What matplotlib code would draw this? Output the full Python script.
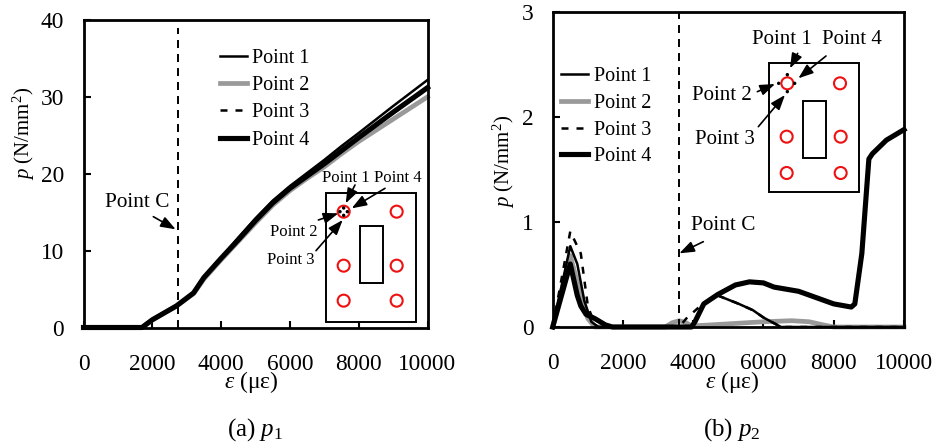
import matplotlib
matplotlib.use("Agg")
import matplotlib.pyplot as plt
from matplotlib.patches import Rectangle, Circle

plt.rcParams['font.family'] = ['Liberation Serif', 'DejaVu Serif']
plt.rcParams['mathtext.fontset'] = 'custom'
plt.rcParams['mathtext.rm'] = 'Liberation Serif'
plt.rcParams['mathtext.it'] = 'Liberation Serif:italic'

series_names = ["Point 1", "Point 2", "Point 3", "Point 4"]

# panel (a)
a_x = [0, 1700, 2000, 2700, 3200, 3500, 4000, 4500, 5000, 5500, 6000, 6500, 7000, 7500, 8000, 9000, 10000]
a_p1 = [0, 0, 1.1, 2.9, 4.6, 6.6, 9.1, 11.7, 14.2, 16.5, 18.4, 20.1, 21.8, 23.6, 25.3, 28.8, 32.2]
a_p2 = [0, 0, 1.0, 2.8, 4.4, 6.3, 8.8, 11.2, 13.6, 15.9, 17.8, 19.4, 20.9, 22.6, 24.2, 27.1, 30.0]
a_p3 = [0, 0, 1.0, 2.8, 4.5, 6.5, 9.0, 11.5, 14.0, 16.2, 18.1, 19.8, 21.4, 23.1, 24.8, 28.0, 31.0]
a_p4 = [0, 0, 1.0, 2.8, 4.5, 6.5, 9.0, 11.4, 13.9, 16.2, 18.1, 19.7, 21.3, 23.0, 24.7, 28.0, 31.2]

# panel (b)
b_p1_x = [0, 500, 700, 900, 1100, 1300, 3950, 4050, 4300, 4700, 5300, 5700, 6000, 6500, 10000]
b_p1 = [0, .77, .6, .25, .05, 0, 0, .05, .22, .30, .22, .16, .09, 0, 0]
b_p2_x = [0, 500, 800, 1000, 1200, 3200, 3400, 3600, 3800, 3950, 4500, 5000, 5500, 6000, 6800, 7300, 7700, 8000, 10000]
b_p2 = [0, .68, .3, .08, 0, 0, .04, .06, .04, .01, .02, .03, .04, .05, .06, .05, .02, 0, 0]
b_p3_x = [0, 500, 800, 1000, 1200, 1300, 3600, 3800, 4200, 4700, 5300, 5700, 6000, 6500, 10000]
b_p3 = [0, .91, .7, .2, .02, 0, 0, .08, .2, .3, .22, .16, .09, 0, 0]
b_p4_x = [0, 500, 700, 800, 950, 1200, 1500, 1700, 3950, 4050, 4300, 4700, 5200, 5600, 6000, 6300,
          7000, 7500, 8000, 8500, 8600, 8800, 9000, 9100, 9500, 10000]
b_p4 = [0, .6, .3, .2, .12, .08, .02, 0, 0, .05, .22, .31, .4, .43, .42, .38,
        .34, .28, .22, .19, .22, .7, 1.6, 1.65, 1.78, 1.88]

W, H = 936, 448
fig = plt.figure(figsize=(W / 100, H / 100), dpi=100, facecolor='white')


def make_axes(l, r, t, b):
    return fig.add_axes([l / W, 1 - b / H, (r - l) / W, (b - t) / H])


ax1 = make_axes(83.5, 427.5, 20, 327.5)
ax2 = make_axes(552.7, 904, 12, 327)
ov = fig.add_axes([0, 0, 1, 1], zorder=5)
ov.set_xlim(0, W)
ov.set_ylim(H, 0)
ov.axis('off')
ov.patch.set_alpha(0)

styles = [
    dict(color='black', lw=1.8),
    dict(color='#999999', lw=3.4),
    dict(color='black', lw=1.8, dashes=(2.8, 3.2)),
    dict(color='black', lw=3.7),
]

a_series = [(a_x, a_p2, 1), (a_x, a_p1, 0), (a_x, a_p3, 2), (a_x, a_p4, 3)]
b_series = [(b_p2_x, b_p2, 1), (b_p1_x, b_p1, 0), (b_p3_x, b_p3, 2), (b_p4_x, b_p4, 3)]

for ax, series, ymax, yticks, cx, ctop, xl, yl in [
    (ax1, a_series, 40, [0, 10, 20, 30, 40], 2750, 39, 0.487, 0.63),
    (ax2, b_series, 3, [0, 1, 2, 3], 3600, 3, 0.512, 0.527),
]:
    handles = {}
    for x, y, i in series:
        handles[i], = ax.plot(x, y, label=series_names[i], clip_on=False, **styles[i])
    ax.plot([cx, cx], [0, ctop], color='black', lw=1.4, dashes=(4.1, 3.1))
    ax.set_xlim(0, 10000)
    ax.set_ylim(0, ymax)
    ax.set_xticks([0, 2000, 4000, 6000, 8000, 10000])
    ax.set_yticks(yticks)
    ax.tick_params(axis='both', direction='in', length=5, width=1.5, labelsize=16.8)
    ax.tick_params(axis='x', pad=19)
    ax.tick_params(axis='y', pad=14)
    for s in ax.spines.values():
        s.set_linewidth(2)
    ax.set_xlabel(r'$\mathit{ε}$ (με)', fontsize=17, labelpad=-4, x=xl)
    ax.set_ylabel(r'$\mathit{p}$ (N/mm$^2$)', fontsize=15, labelpad=3, y=yl)
    ax._h = [handles[i] for i in range(4)]

ax1.legend(ax1._h, series_names, loc='upper left', bbox_to_anchor=(220, 49), bbox_transform=ov.transData,
           frameon=False, fontsize=14.5, handlelength=1.35, handletextpad=0.25, borderpad=0,
           borderaxespad=0, labelspacing=0.4)
ax2.legend(ax2._h, series_names, loc='upper left', bbox_to_anchor=(560.5, 67), bbox_transform=ov.transData,
           frameon=False, fontsize=14.5, handlelength=1.35, handletextpad=0.33, borderpad=0,
           borderaxespad=0, labelspacing=0.38)


def z(x, y, off=0):
    return off + x / 3, y / 3


def schematic(off, box, inner, circles, dots, arrows, labels):
    x0, y0, x1, y1 = box
    ov.add_patch(Rectangle(z(x0, y0, off), (x1 - x0) / 3, (y1 - y0) / 3, fill=False, ec='black', lw=1.4))
    x0, y0, x1, y1 = inner
    ov.add_patch(Rectangle(z(x0, y0, off), (x1 - x0) / 3, (y1 - y0) / 3, fill=False, ec='black', lw=1.4))
    for c in circles:
        ov.add_patch(Circle(z(*c, off), 6, fill=False, ec='#ee1111', lw=1.5))
    for d in dots:
        ov.add_patch(Circle(z(*d, off), 1.7, fc='black', ec='none'))
    for s, e in arrows:
        ov.annotate('', xy=z(*e, off), xytext=z(*s, off),
                    arrowprops=dict(arrowstyle='-|>,head_length=0.9,head_width=0.33', color='black', lw=1.2,
                                    shrinkA=0, shrinkB=0))
    for t, p, size in labels:
        ov.text(*z(*p, off), t, fontsize=size, ha='center', va='center')


schematic(0, (978, 578, 1248, 965), (1080, 678, 1148, 850),
          [(1031, 635), (1190, 635), (1031, 797), (1190, 797), (1031, 902), (1190, 902)],
          [(1031, 624), (1020, 635), (1042, 635), (1031, 646)],
          [((1065, 555), (1037, 610)), ((1155, 565), (1055, 625)), ((955, 660), (1015, 640)),
           ((948, 752), (1028, 660)), ((460, 650), (527, 688))],
          [('Point 1', (1037, 535), 12), ('Point 4', (1193, 535), 12), ('Point 2', (881, 697), 12),
           ('Point 3', (871, 780), 12), ('Point C', (412, 608), 15.3)])

schematic(470, (897, 190, 1168, 576), (998, 302, 1068, 475),
          [(952, 250), (1110, 250), (950, 410), (1112, 410), (950, 519), (1112, 519)],
          [(952, 224), (926, 250), (974, 250), (952, 275)],
          [((983, 160), (960, 205)), ((1068, 168), (985, 235)), ((862, 275), (915, 252)),
           ((865, 380), (945, 285)), ((700, 725), (628, 760))],
          [('Point 1', (936, 120), 15), ('Point 4', (1147, 120), 15), ('Point 2', (757, 288), 15),
           ('Point 3', (765, 420), 15), ('Point C', (760, 675), 15.3)])

ov.text(255, 430, r'(a) $\mathit{p}_{1}$', fontsize=18, ha='center', va='center')
ov.text(732, 430, r'(b) $\mathit{p}_{2}$', fontsize=18, ha='center', va='center')

fig.savefig('out.png', dpi=100)
